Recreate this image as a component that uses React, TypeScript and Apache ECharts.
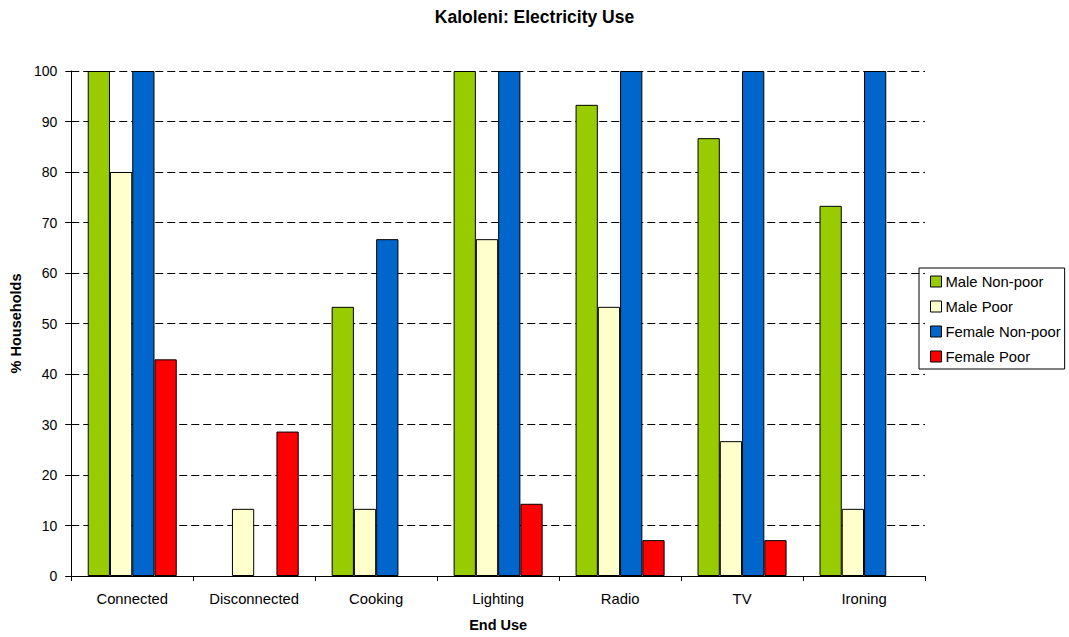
import React, { useEffect, useRef } from "react";
import * as echarts from "echarts";

const categories = ["Connected", "Disconnected", "Cooking", "Lighting", "Radio", "TV", "Ironing"];
const maleNonPoor = [100, 0, 53.3, 100, 93.3, 86.7, 73.3];
const malePoor = [80, 13.3, 13.3, 66.7, 53.3, 26.7, 13.3];
const femaleNonPoor = [100, 0, 66.7, 100, 100, 100, 100];
const femalePoor = [42.9, 28.6, 0, 14.3, 7.1, 7.1, 0];

const seriesDefs = [
  { name: "Male Non-poor", data: maleNonPoor, color: "#99CC00" },
  { name: "Male Poor", data: malePoor, color: "#FFFFCC" },
  { name: "Female Non-poor", data: femaleNonPoor, color: "#0066CC" },
  { name: "Female Poor", data: femalePoor, color: "#FF0000" },
];

const font = "Arial, 'Liberation Sans', sans-serif";

export default function App() {
  const ref = useRef<HTMLDivElement>(null);
  useEffect(() => {
    if (!ref.current) return;
    const chart = echarts.init(ref.current, null, { renderer: "svg" });
    chart.setOption({
      animation: false,
      backgroundColor: "#ffffff",
      textStyle: { fontFamily: font },
      title: {
        text: "Kaloleni: Electricity Use",
        left: "center",
        top: 3,
        textStyle: { fontSize: 17.5, fontWeight: "bold", color: "#000", fontFamily: font },
      },
      grid: { left: 70, right: 144, top: 71, bottom: 60 },
      legend: {
        orient: "vertical",
        left: 919,
        top: 268,
        itemWidth: 11,
        itemHeight: 11,
        itemGap: 10,
        padding: [6, 4, 5, 11],
        borderColor: "#000",
        borderWidth: 1,
        borderRadius: 0,
        textStyle: { fontSize: 14.8, color: "#000", fontFamily: font, padding: [0, 0, 0, -1] },
        data: seriesDefs.map((s) => ({
          name: s.name,
          icon: "rect",
          itemStyle: { color: s.color, borderColor: "#000", borderWidth: 1 },
        })),
      },
      xAxis: {
        type: "category",
        data: categories,
        name: "End Use",
        nameLocation: "middle",
        nameGap: 41,
        nameTextStyle: { fontSize: 14.5, fontWeight: "bold", color: "#000", fontFamily: font },
        axisLine: { lineStyle: { color: "#000", width: 1 } },
        axisTick: { show: true, alignWithLabel: false, length: 5, lineStyle: { color: "#000" } },
        axisLabel: { fontSize: 14.8, color: "#000", margin: 15, fontFamily: font },
      },
      yAxis: {
        type: "value",
        min: 0,
        max: 100,
        interval: 10,
        name: "% Households",
        nameLocation: "middle",
        nameGap: 46,
        nameTextStyle: { fontSize: 14.5, fontWeight: "bold", color: "#000", fontFamily: font },
        axisLine: { show: true, lineStyle: { color: "#000", width: 1 } },
        axisTick: { show: true, length: 6, lineStyle: { color: "#000" } },
        axisLabel: { fontSize: 14, color: "#000", margin: 14, fontFamily: font },
        splitLine: { show: true, lineStyle: { color: "#000", type: [8, 4], width: 1 } },
      },
      series: seriesDefs.map((s) => ({
        name: s.name,
        type: "bar",
        // zero values are left empty so no outline is drawn on the axis
        data: s.data.map((v) => (v === 0 ? "-" : v)),
        barGap: "0%",
        barCategoryGap: "27%",
        itemStyle: { color: s.color, borderColor: "#000", borderWidth: 1 },
      })),
    });
    return () => chart.dispose();
  }, []);
  return (
    <div
      ref={ref}
      style={{ position: "fixed", left: 0, top: 0, width: 1069, height: 637 }}
    />
  );
}
